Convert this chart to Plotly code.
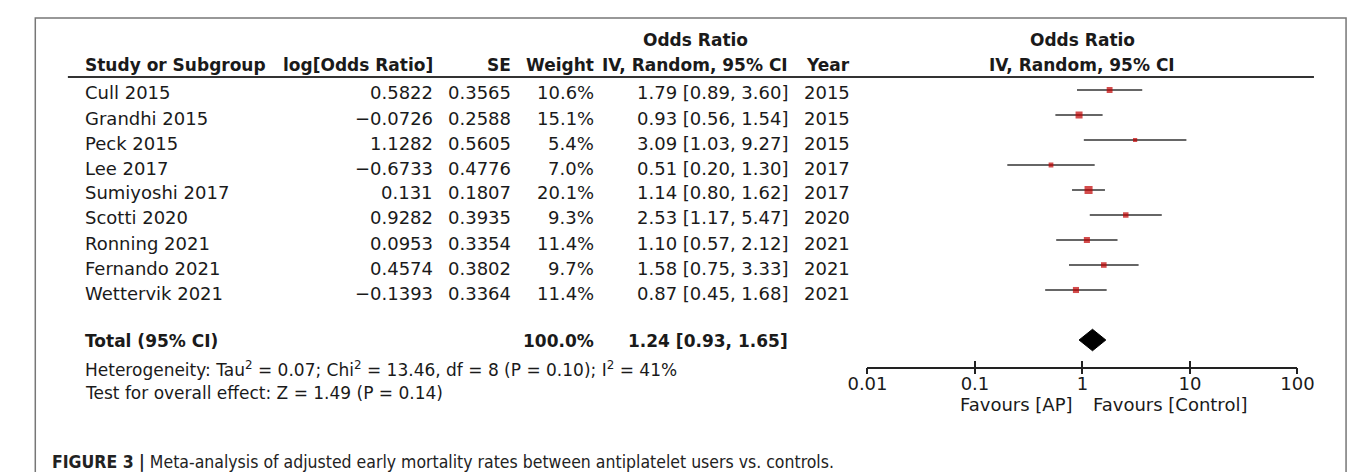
import math
import plotly.graph_objects as go

# ---------------- data ----------------
studies = ["Cull 2015", "Grandhi 2015", "Peck 2015", "Lee 2017", "Sumiyoshi 2017",
           "Scotti 2020", "Ronning 2021", "Fernando 2021", "Wettervik 2021"]
log_or = [0.5822, -0.0726, 1.1282, -0.6733, 0.131, 0.9282, 0.0953, 0.4574, -0.1393]
se = [0.3565, 0.2588, 0.5605, 0.4776, 0.1807, 0.3935, 0.3354, 0.3802, 0.3364]
weight = [10.6, 15.1, 5.4, 7.0, 20.1, 9.3, 11.4, 9.7, 11.4]
or_est = [1.79, 0.93, 3.09, 0.51, 1.14, 2.53, 1.10, 1.58, 0.87]
ci_lo = [0.89, 0.56, 1.03, 0.20, 0.80, 1.17, 0.57, 0.75, 0.45]
ci_hi = [3.60, 1.54, 9.27, 1.30, 1.62, 5.47, 2.12, 3.33, 1.68]
years = [2015, 2015, 2015, 2017, 2017, 2020, 2021, 2021, 2021]

total_weight = 100.0
total_est, total_lo, total_hi = 1.24, 0.93, 1.65
heterogeneity = "Heterogeneity: Tau<sup>2</sup> = 0.07; Chi<sup>2</sup> = 13.46, df = 8 (P = 0.10); I<sup>2</sup> = 41%"
overall = "Test for overall effect: Z = 1.49 (P = 0.14)"
tick_vals = [0.01, 0.1, 1, 10, 100]
tick_text = ["0.01", "0.1", "1", "10", "100"]
favours_left = "Favours [AP]"
favours_right = "Favours [Control]"
caption_bold = "FIGURE 3 |"
caption_text = "Meta-analysis of adjusted early mortality rates between antiplatelet users vs. controls."

# ---------------- layout helpers ----------------
W, H = 1357, 472
FONT = "DejaVu Sans, Lucida Grande, sans-serif"
TXT = "#1a1a1a"
REG = 18
BOLD = 17


def X(p):
    return p / W


def Y(p):
    return 1 - p / H


ROW0, PITCH = 82, 25          # pixel of row 0 and row pitch
TOTAL_ROW = 10


def row_px(r):
    return ROW0 + PITCH * r


annotations = []


def text(s, x, y, anchor="left", size=REG, bold=False, family=FONT, color=TXT):
    if bold:
        s = "<b>" + s + "</b>"
    annotations.append(dict(text=s, x=X(x), y=Y(y), xref="paper", yref="paper",
                            xanchor=anchor, yanchor="middle", showarrow=False,
                            font=dict(family=family, size=size, color=color)))


def fmt_signed(v):
    return str(v).replace("-", "\u2212")


# headers
text("Study or Subgroup", 57, 57, bold=True, size=BOLD)
text("log[Odds Ratio]", 418, 57, "right", bold=True, size=BOLD)
text("SE", 499, 57, "right", bold=True, size=BOLD)
text("Weight", 584, 57, "right", bold=True, size=BOLD)
text("Odds Ratio", 686, 32, "center", bold=True, size=BOLD)
text("IV, Random, 95% CI", 783, 57, "right", bold=True, size=BOLD)
text("Year", 847, 57, "right", bold=True, size=BOLD)
text("Odds Ratio", 1084, 32, "center", bold=True, size=BOLD)
text("IV, Random, 95% CI", 1084, 57, "center", bold=True, size=BOLD)

# study rows
for i, name in enumerate(studies):
    yp = row_px(i) + 3
    text(name, 57, yp)
    text(fmt_signed(log_or[i]), 418, yp, "right")
    text(f"{se[i]:.4f}", 499, yp, "right")
    text(f"{weight[i]:.1f}%", 584, yp, "right")
    text(f"{or_est[i]:.2f} [{ci_lo[i]:.2f}, {ci_hi[i]:.2f}]", 783, yp, "right")
    text(str(years[i]), 847, yp, "right")

# total row
ytot = row_px(TOTAL_ROW) + 1
text("Total (95% CI)", 57, ytot, bold=True, size=BOLD)
text(f"{total_weight:.1f}%", 584, ytot, "right", bold=True, size=BOLD)
text(f"{total_est:.2f} [{total_lo:.2f}, {total_hi:.2f}]", 783, ytot, "right", bold=True, size=BOLD)
text(heterogeneity, 57, 361, size=17)
text(overall, 57, 385, size=17)

# favours labels
text(favours_left, 1076, 396, "right")
text(favours_right, 1093, 396, "left")

# caption
annotations.append(dict(
    text=f"<b>{caption_bold}</b> {caption_text}", x=X(23), y=Y(454), xref="paper", yref="paper",
    xanchor="left", yanchor="middle", showarrow=False,
    font=dict(family="Liberation Sans Narrow, DejaVu Sans Condensed, Liberation Sans, sans-serif",
              size=17.5, color="#222")))

# ---------------- traces ----------------
fig = go.Figure()

# CI lines
cx, cy = [], []
for i in range(len(studies)):
    cx += [ci_lo[i], ci_hi[i], None]
    cy += [i, i, None]
fig.add_trace(go.Scatter(x=cx, y=cy, mode="lines", line=dict(color="#333", width=1.6),
                         hoverinfo="skip", showlegend=False))

# weight-scaled squares
fig.add_trace(go.Scatter(x=or_est, y=list(range(len(studies))), mode="markers",
                         marker=dict(symbol="square", color="#c00000",
                                     size=[1.8 * math.sqrt(w) for w in weight], line=dict(width=0)),
                         hoverinfo="skip", showlegend=False))

# pooled diamond
dh = 0.43
fig.add_trace(go.Scatter(x=[total_lo, total_est, total_hi, total_est, total_lo],
                         y=[TOTAL_ROW, TOTAL_ROW - dh, TOTAL_ROW, TOTAL_ROW + dh, TOTAL_ROW],
                         mode="lines", fill="toself", fillcolor="#000", line=dict(color="#000", width=1),
                         hoverinfo="skip", showlegend=False))

# dummy trace so the lower tick-stub axis is drawn
fig.add_trace(go.Scatter(x=[1], y=[0], xaxis="x2", mode="markers", marker=dict(opacity=0),
                         hoverinfo="skip", showlegend=False))

top_px, axis_px = 69, 359
yr = [(axis_px - ROW0) / PITCH, (top_px - ROW0) / PITCH]
dom = [X(863), X(1305)]

shapes = [
    # outer frame
    dict(type="rect", xref="paper", yref="paper", x0=X(7.5), x1=X(1355), y0=-0.2, y1=Y(10),
         line=dict(color="#777", width=1.5), fillcolor="rgba(0,0,0,0)", layer="below"),
    # header underline
    dict(type="line", xref="paper", yref="paper", x0=X(41), x1=X(1322), y0=Y(69), y1=Y(69),
         line=dict(color="#333", width=2)),
    # line of no effect (x in log10 units on the log axis)
    dict(type="line", xref="x", yref="y domain", x0=math.log10(1), x1=math.log10(1), y0=0, y1=1,
         line=dict(color="#222", width=1.6)),
]

axis_common = dict(type="log", range=[-2, 2], domain=dom, showgrid=False, zeroline=False,
                   tickvals=tick_vals, ticktext=tick_text, ticklen=6, tickwidth=1.5,
                   tickcolor="#222", fixedrange=True)

fig.update_layout(
    width=W, height=H, margin=dict(l=0, r=0, t=0, b=0),
    paper_bgcolor="white", plot_bgcolor="rgba(0,0,0,0)",
    xaxis=dict(**axis_common, showline=True, linecolor="#222", linewidth=1.5, ticks="inside",
               tickfont=dict(family=FONT, size=REG, color=TXT), anchor="y"),
    xaxis2=dict(**axis_common, overlaying="x", anchor="y", side="bottom", ticks="outside",
                showticklabels=False, showline=False),
    yaxis=dict(range=yr, domain=[Y(axis_px), Y(top_px)], visible=False, fixedrange=True),
    shapes=shapes,
    annotations=annotations,
    showlegend=False,
)

fig.write_html("out.html")
